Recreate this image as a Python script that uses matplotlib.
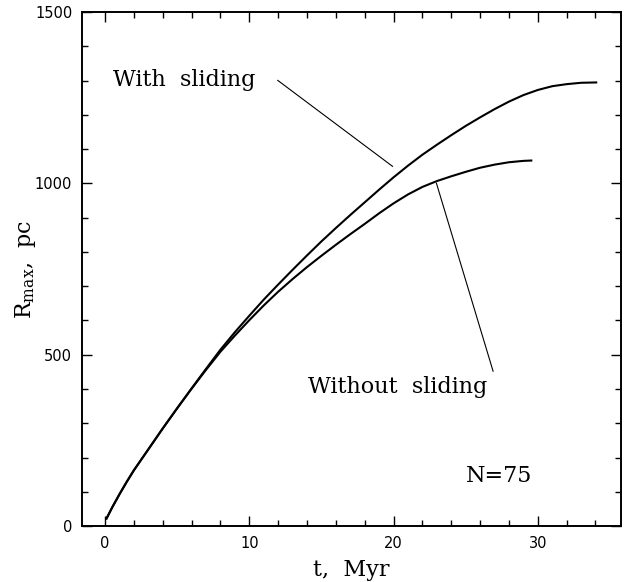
import matplotlib
matplotlib.use("Agg")
import matplotlib.pyplot as plt
from matplotlib.ticker import MultipleLocator

# R_max(t) with sliding
t_slide = [0.1, 0.5, 1, 1.5, 2, 3, 4, 5, 6, 7, 8, 9, 10, 11, 12, 13, 14, 15,
           16, 17, 18, 19, 20, 21, 22, 23, 24, 25, 26, 27, 28, 29, 30, 31,
           32, 33, 34.05]
r_slide = [22, 55, 93, 129, 163, 224, 285, 344, 402, 459, 515, 566, 614,
           661, 705, 748, 790, 831, 870, 908, 945, 982, 1018, 1052, 1084,
           1113, 1141, 1168, 1193, 1217, 1239, 1258, 1273, 1284, 1290, 1294,
           1295]

# R_max(t) without sliding
t_noslide = [0.1, 0.5, 1, 1.5, 2, 3, 4, 5, 6, 7, 8, 9, 10, 11, 12, 13, 14,
             15, 16, 17, 18, 19, 20, 21, 22, 23, 24, 25, 26, 27, 28, 29, 29.55]
r_noslide = [22, 55, 93, 129, 163, 224, 285, 344, 401, 456, 509, 556, 601,
             644, 684, 721, 756, 789, 821, 852, 882, 913, 942, 968, 990,
             1007, 1021, 1034, 1046, 1055, 1062, 1066, 1067]

# leader lines for the labels
lead_slide_t = [11.97, 19.93]
lead_slide_r = [1301, 1050]
lead_noslide_t = [22.97, 26.9]
lead_noslide_r = [1001, 452]

SERIF = "DejaVu Serif"
plt.rcParams["mathtext.fontset"] = "dejavuserif"

fig = plt.figure(figsize=(6.29, 5.82), dpi=100)
ax = fig.add_axes([0.1304, 0.0962, 0.8576, 0.8828])

ax.plot(t_slide, r_slide, color="black", lw=1.5)
ax.plot(t_noslide, r_noslide, color="black", lw=1.5)
ax.plot(lead_slide_t, lead_slide_r, color="black", lw=0.8)
ax.plot(lead_noslide_t, lead_noslide_r, color="black", lw=0.8)

ax.text(0.55, 1301, "With  sliding", family=SERIF, fontsize=16, va="center")
ax.text(14.05, 405, "Without  sliding", family=SERIF, fontsize=16, va="center")
ax.text(25.0, 146, "N=75", family=SERIF, fontsize=16, va="center")

ax.set_xlim(-1.6, 35.8)
ax.set_ylim(0, 1500)
ax.xaxis.set_major_locator(MultipleLocator(10))
ax.xaxis.set_minor_locator(MultipleLocator(2))
ax.yaxis.set_major_locator(MultipleLocator(500))
ax.yaxis.set_minor_locator(MultipleLocator(100))
ax.tick_params(which="both", direction="in", top=True, right=True,
               width=1.0, labelsize=10.5, pad=7)
ax.tick_params(which="major", length=7.5)
ax.tick_params(which="minor", length=4)
for s in ax.spines.values():
    s.set_linewidth(1.4)

ax.set_xlabel("t,  Myr", family=SERIF, fontsize=16, labelpad=6)
ax.set_ylabel(r"R$_{\mathrm{max}}$,  pc", family=SERIF, fontsize=16, labelpad=-2)

fig.savefig("out.png", dpi=100)
